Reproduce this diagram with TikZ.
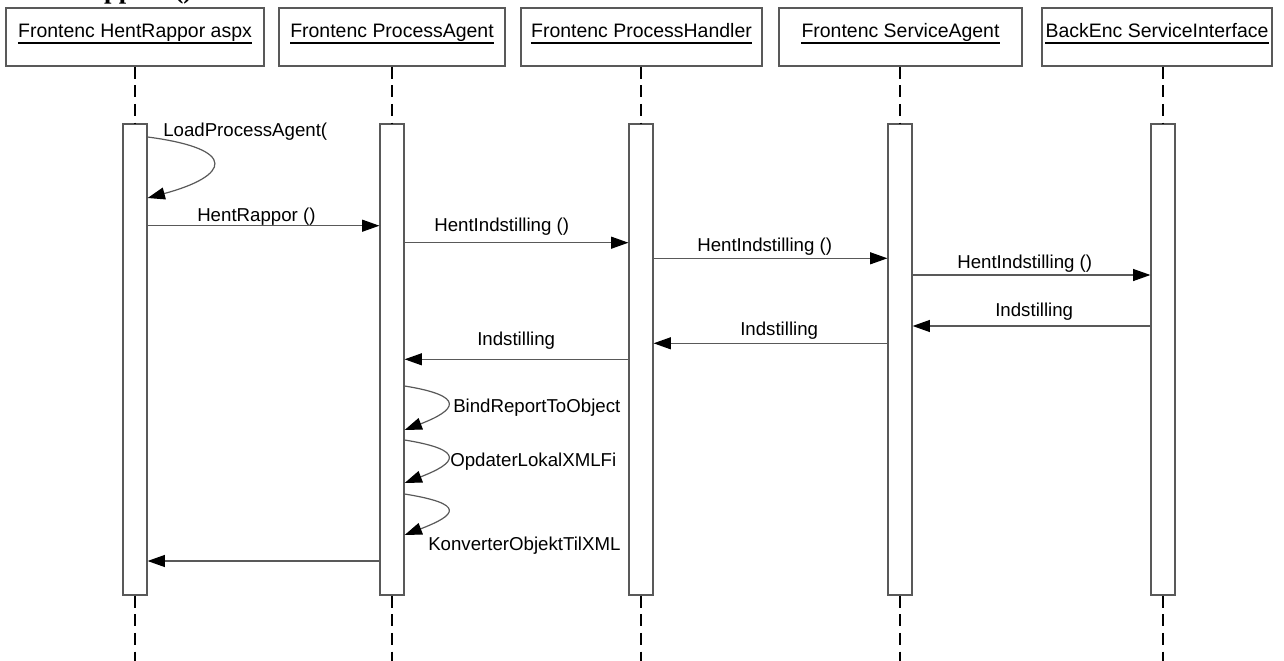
\documentclass[tikz,border=0pt]{standalone}
\usepackage{fontspec}
\setmainfont{Liberation Sans}
\newfontfamily\titlefont{Liberation Serif}
\usetikzlibrary{arrows.meta}
\definecolor{linegray}{gray}{0.35}
\begin{document}
\begin{tikzpicture}[x=0.75pt,y=-0.75pt,
  every node/.style={font=\fontsize{14pt}{16pt}\selectfont},
  head/.style={draw=linegray, line width=0.9pt, minimum height=43.5pt, inner sep=0pt},
  headtext/.style={inner sep=0pt, anchor=base, font=\fontsize{14.6pt}{17pt}\selectfont},
  actbar/.style={draw=linegray, line width=0.9pt, fill=white, minimum width=18pt, minimum height=353.25pt, inner sep=0pt},
  life/.style={line width=1pt, dash pattern=on 9pt off 5pt},
  msg/.style={draw=linegray, line width=0.9pt, -{Triangle[length=13pt,width=9pt,fill=black,color=black]}},
  msglabel/.style={inner sep=0pt, anchor=base west}]
\useasboundingbox (0,0) rectangle (1284,660);

% caption above the diagram, cut off by the page edge
\begin{scope}
  \clip (0,0) rectangle (1284,660);
  \node[inner sep=0pt, anchor=base west, font=\titlefont\bfseries\fontsize{20pt}{24pt}\selectfont] (title) at (15,-1) {HentRapport ()};
\end{scope}

% object heads
\node[head, minimum width=193.5pt]  (h1) at (135,37)    {};
\node[head, minimum width=169.5pt]  (h2) at (392,37)    {};
\node[head, minimum width=180.75pt] (h3) at (641.5,37)  {};
\node[head, minimum width=182.25pt] (h4) at (900.5,37)  {};
\node[head, minimum width=172.5pt]  (h5) at (1157,37)   {};

\node[headtext] (t1) at (135,37.3)   {Frontenc HentRappor aspx};
\node[headtext] (t2) at (392,37.3)   {Frontenc ProcessAgent};
\node[headtext] (t3) at (641.5,37.3) {Frontenc ProcessHandler};
\node[headtext] (t4) at (900.5,37.3) {Frontenc ServiceAgent};
\node[headtext] (t5) at (1157,37.3)  {BackEnc ServiceInterface};
\foreach \t in {t1,t2,t3,t4,t5}
  \draw[line width=0.9pt] ([yshift=-4.3pt]\t.base west) -- ([yshift=-4.3pt]\t.base east);

% activation bars
\node[actbar] (a1) at (135,359.5)  {};
\node[actbar] (a2) at (392,359.5)  {};
\node[actbar] (a3) at (641,359.5)  {};
\node[actbar] (a4) at (900,359.5)  {};
\node[actbar] (a5) at (1163,359.5) {};

% page bottom, for the lifeline ends
\coordinate (bottom) at (0,662);

% lifelines
\foreach \h/\a in {h1/a1,h2/a2,h3/a3,h4/a4,h5/a5} {
  \draw[life] (\a.north |- \h.south) -- (\a.north);
  \draw[life] (\a.south) -- (\a.south |- bottom);
}

% message levels
\coordinate (yL1) at (0,137);   \coordinate (yL2) at (0,198);
\coordinate (yHR) at (0,225.7);
\coordinate (yHI1) at (0,242.7);
\coordinate (yHI2) at (0,258.3);
\coordinate (yHI3) at (0,275);
\coordinate (yR1) at (0,326);
\coordinate (yR2) at (0,343.3);
\coordinate (yR3) at (0,359.3);
\coordinate (yB1) at (0,386);  \coordinate (yB2) at (0,430);
\coordinate (yO1) at (0,440);  \coordinate (yO2) at (0,483);
\coordinate (yK1) at (0,494);  \coordinate (yK2) at (0,535);
\coordinate (yEnd) at (0,561);

% messages
\draw[msg] (a1.east |- yL1) .. controls +(92,12) and +(82,-22) .. (a1.east |- yL2);
\node[msglabel] (l1) at (163,136) {LoadProcessAgent(};

\draw[msg] (a1.east |- yHR) -- (a2.west |- yHR);
\node[msglabel] (l2) at (197,221.5) {HentRappor ()};

\draw[msg] (a2.east |- yHI1) -- (a3.west |- yHI1);
\node[msglabel] (l3) at (434,231.5) {HentIndstilling ()};

\draw[msg] (a3.east |- yHI2) -- (a4.west |- yHI2);
\node[msglabel] (l4) at (697,251.5) {HentIndstilling ()};

\draw[msg] (a4.east |- yHI3) -- (a5.west |- yHI3);
\node[msglabel] (l5) at (957,268.3) {HentIndstilling ()};

\draw[msg] (a5.west |- yR1) -- (a4.east |- yR1);
\node[msglabel] (l6) at (995,316) {Indstilling};

\draw[msg] (a4.west |- yR2) -- (a3.east |- yR2);
\node[msglabel] (l7) at (740,335) {Indstilling};

\draw[msg] (a3.west |- yR3) -- (a2.east |- yR3);
\node[msglabel] (l8) at (477,345) {Indstilling};

\draw[msg] (a2.east |- yB1) .. controls +(62,10) and +(52,-20) .. (a2.east |- yB2);
\node[msglabel] (l9) at (453,412) {BindReportToObject};

\draw[msg] (a2.east |- yO1) .. controls +(62,10) and +(52,-20) .. (a2.east |- yO2);
\node[msglabel] (l10) at (450,466.5) {OpdaterLokalXMLFi};

\draw[msg] (a2.east |- yK1) .. controls +(62,10) and +(52,-20) .. (a2.east |- yK2);
\node[msglabel] (l11) at (428,550) {KonverterObjektTilXML};

\draw[msg] (a2.west |- yEnd) -- (a1.east |- yEnd);
\end{tikzpicture}
\end{document}
